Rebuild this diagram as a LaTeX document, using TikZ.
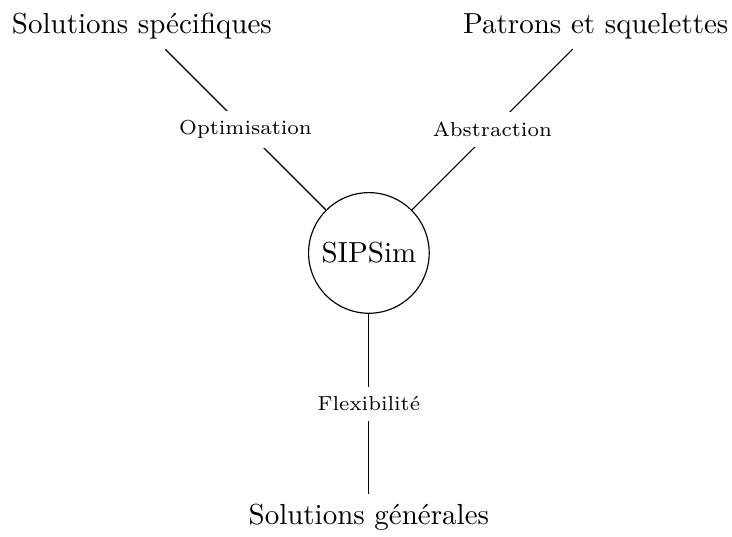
\documentclass[tikz,border=0pt]{standalone}
\begin{document}
\begin{tikzpicture}

      \useasboundingbox (-4.47,-3.43) rectangle (4.40,3.065);

      \node[circle,draw] (sipsim) at (0,0) {SIPSim};

      \begin{scope}[every node/.style={}]
        \node (spec) at (-2.75,2.75) {Solutions spécifiques};
        \node (patr) at (2.75,2.75)  {Patrons et squelettes};
        \node (gen)  at (0,-3.2)     {Solutions générales};
      \end{scope}

      \begin{scope}[every node/.style={fill=white,font=\scriptsize}]

        \begin{scope}[every edge/.style={draw}]
          \path (sipsim) edge node {Optimisation} (spec);
          \path (sipsim) edge node {Abstraction} (patr);
          \path (sipsim) edge node {Flexibilité} (gen);
        \end{scope}
      \end{scope}

    \end{tikzpicture}
\end{document}
